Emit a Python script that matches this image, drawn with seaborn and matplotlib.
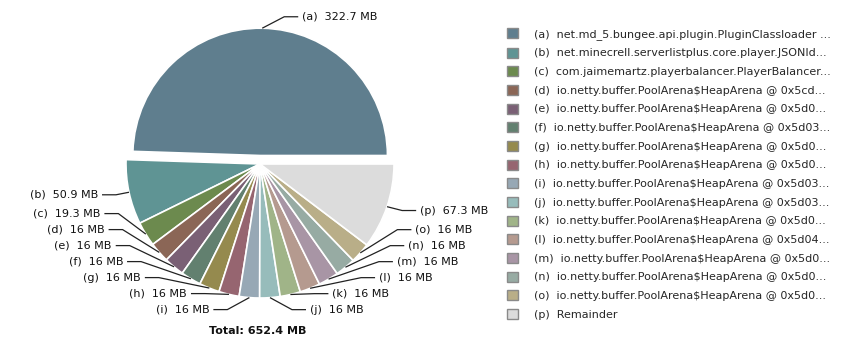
import numpy as np
import matplotlib
matplotlib.use("Agg")
import matplotlib.pyplot as plt
import matplotlib.patches as mpatches
import seaborn as sns

# data
letters = list("abcdefghijklmnop")
sizes_mb = [322.7, 50.9, 19.3, 16, 16, 16, 16, 16, 16, 16, 16, 16, 16, 16, 16, 67.3]
total_mb = 652.4
legend_names = [
    "net.md_5.bungee.api.plugin.PluginClassloader ...",
    "net.minecrell.serverlistplus.core.player.JSONId...",
    "com.jaimemartz.playerbalancer.PlayerBalancer...",
    "io.netty.buffer.PoolArena$HeapArena @ 0x5cd...",
    "io.netty.buffer.PoolArena$HeapArena @ 0x5d0...",
    "io.netty.buffer.PoolArena$HeapArena @ 0x5d03...",
    "io.netty.buffer.PoolArena$HeapArena @ 0x5d0...",
    "io.netty.buffer.PoolArena$HeapArena @ 0x5d0...",
    "io.netty.buffer.PoolArena$HeapArena @ 0x5d03...",
    "io.netty.buffer.PoolArena$HeapArena @ 0x5d03...",
    "io.netty.buffer.PoolArena$HeapArena @ 0x5d0...",
    "io.netty.buffer.PoolArena$HeapArena @ 0x5d04...",
    "io.netty.buffer.PoolArena$HeapArena @ 0x5d0...",
    "io.netty.buffer.PoolArena$HeapArena @ 0x5d0...",
    "io.netty.buffer.PoolArena$HeapArena @ 0x5d0...",
    "Remainder",
]
hex_colors = [
    "#5f7e8e", "#5f9494", "#6c8a4e", "#8b6656", "#7a6075", "#62806f",
    "#958a4e", "#966570", "#97a8b5", "#97bcbb", "#a0b488", "#b59a8f",
    "#a895a5", "#97aba3", "#b9ae88", "#dcdcdc",
]

sns.set_theme(style="white")
plt.rcParams["font.family"] = ["DejaVu Sans"]
plt.rcParams["text.parse_math"] = False
palette = sns.color_palette(hex_colors)

fig = plt.figure(figsize=(8.5, 3.5), dpi=100)
ax = fig.add_axes([0, 0, 1, 1])

# pie laid out in pixel units (y grows downwards)
cx, cy, R = 260, 164, 134
explode = [8.5] + [0] * (len(sizes_mb) - 1)
wedges, _ = ax.pie(sizes_mb, colors=palette, startangle=0, counterclock=False,
                   center=(cx, cy), radius=R, explode=explode,
                   wedgeprops=dict(edgecolor="white", linewidth=1.2))
wedges[0].set_radius(R * 0.95)

ax.set_xlim(0, 850)
ax.set_ylim(350, 0)
ax.set_aspect("equal")
ax.axis("off")

# label layout: natural height, then push apart from the bottom up
recs = []
for i, w in enumerate(wedges):
    mid = np.deg2rad((w.theta1 + w.theta2) / 2)
    ccx, ccy = w.center
    r = w.r
    recs.append(dict(i=i, mid=mid, ccx=ccx, ccy=ccy, r=r,
                     y=ccy + 1.09 * r * np.sin(mid),
                     right=np.cos(mid) >= 0))

for side in (True, False):
    group = sorted([d for d in recs if d["right"] == side], key=lambda d: -d["y"])
    prev = None
    for d in group:
        if prev is not None:
            d["y"] = min(d["y"], prev - 16)
        prev = d["y"]

for d in recs:
    i = d["i"]
    anc_x = d["ccx"] + d["r"] * np.cos(d["mid"])
    anc_y = d["ccy"] + d["r"] * np.sin(d["mid"])
    anc_dx = abs(anc_x - d["ccx"])
    t = min(1.0, abs(d["y"] - d["ccy"]) / (1.06 * d["r"]))
    dx = 1.08 * d["r"] * np.sqrt(1 - t ** 3)
    if dx < anc_dx + 10:
        dx = anc_dx + 22
    if d["y"] >= anc_y - 2:
        dx = min(dx, anc_dx + 24)
    sgn = 1 if d["right"] else -1
    knee = d["ccx"] + sgn * dx
    ax.plot([anc_x, knee, knee + sgn * 14], [anc_y, d["y"], d["y"]],
            color="#222222", lw=0.9, solid_capstyle="butt")
    ax.text(knee + sgn * 18, d["y"], f"({letters[i]})  {sizes_mb[i]:g} MB",
            ha="left" if d["right"] else "right", va="center",
            fontsize=8, color="#111111")

ax.text(258, 331, f"Total: {total_mb} MB", ha="center", va="center",
        fontsize=8, fontweight="bold", color="#111111")

handles = [mpatches.Patch(facecolor=c, edgecolor="#8a8a8a", linewidth=1) for c in hex_colors]
labels = [f"({l})  {n}" for l, n in zip(letters, legend_names)]
ax.legend(handles, labels, loc="upper left", bbox_to_anchor=(507 / 850, 1 - 28 / 350),
          bbox_transform=fig.transFigure, frameon=False, fontsize=8,
          handlelength=1.0, handleheight=1.0, handletextpad=1.4,
          labelspacing=0.71, borderpad=0, borderaxespad=0)

fig.savefig("out.png", dpi=100)
